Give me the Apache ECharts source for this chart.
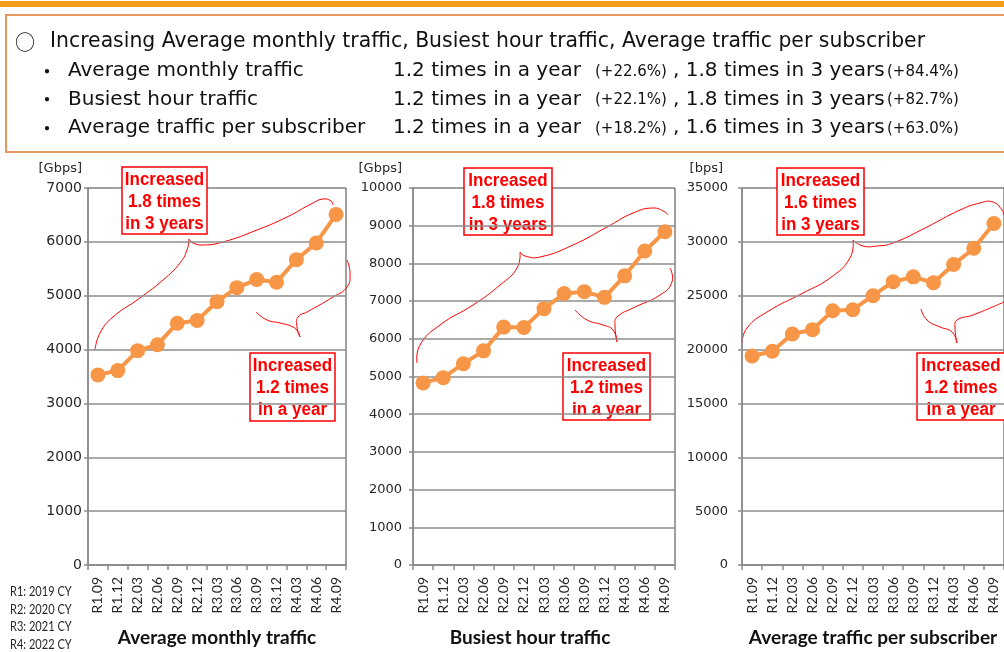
<!DOCTYPE html>
<html>
  <head>
    <meta charset="utf-8" />
    <title>Traffic</title>
    <script src="https://cdn.jsdelivr.net/npm/echarts/dist/echarts.min.js"></script>
    <style>
      body { margin: 0; background: #fff; }
    </style>
  </head>
  <body>
    <div id="main" style="width: 1004px; height: 652px;"></div>

    <script type="text/javascript">
      // data
      const periods = ['R1.09', 'R1.12', 'R2.03', 'R2.06', 'R2.09', 'R2.12', 'R3.03', 'R3.06', 'R3.09', 'R3.12', 'R4.03', 'R4.06', 'R4.09'];
      const monthlyTraffic = [3530, 3610, 3980, 4090, 4490, 4540, 4890, 5150, 5300, 5250, 5670, 5980, 6510];
      const busiestHourTraffic = [4830, 4970, 5340, 5680, 6310, 6300, 6800, 7200, 7250, 7100, 7670, 8330, 8840];
      const trafficPerSubscriber = [19400, 19850, 21450, 21850, 23600, 23700, 25000, 26300, 26750, 26200, 27900, 29400, 31700];

      const chartTitles = ['Average monthly traffic', 'Busiest hour traffic', 'Average traffic per subscriber'];
      const units = ['[Gbps]', '[Gbps]', '[bps]'];
      const yMax = [7000, 10000, 35000];
      const yStep = [1000, 1000, 5000];
      const eraNotes = ['R1: 2019 CY', 'R2: 2020 CY', 'R3: 2021 CY', 'R4: 2022 CY'];

      const summaryRows = [
        ['Average monthly traffic', '(+22.6%)', '(+84.4%)', '1.8'],
        ['Busiest hour traffic', '(+22.1%)', '(+82.7%)', '1.8'],
        ['Average traffic per subscriber', '(+18.2%)', '(+63.0%)', '1.6']
      ];

      var myChart = echarts.init(document.getElementById('main'));

      const gray = '#8c8c8c';
      const red = '#ff0000';
      const orange = '#f79646';
      const bigFont = '20px "DejaVu Sans"';
      const smallFont = '15px "DejaVu Sans"';

      const grids = [
        { left: 88, top: 188, width: 258, height: 378 },
        { left: 413, top: 188, width: 262, height: 378 },
        { left: 742, top: 188, width: 270, height: 378 }
      ];
      const labelMargin = [6, 11, 14];
      const labelSize = [14, 13, 13];
      const namePad = [[0, 0, 0, 0], [0, 28, 0, 0], [0, 0, 0, 0]];

      function noteBox(x, y, w, h, text) {
        return {
          type: 'group',
          z: 100,
          children: [
            { type: 'rect', shape: { x: x, y: y, width: w, height: h }, style: { fill: '#fff', stroke: red, lineWidth: 1.5 } },
            {
              type: 'text',
              x: x + w / 2, y: y + h / 2 + 1, scaleY: 1.1,
              style: {
                text: text, x: 0, y: 0, align: 'center', verticalAlign: 'middle',
                font: 'bold 17px "Liberation Sans"', fill: red, lineHeight: 20
              }
            }
          ]
        };
      }

      function brace(left, right) {
        return {
          type: 'group',
          z: 100,
          children: [
            { type: 'polyline', shape: { points: left, smooth: 0.5 }, style: { stroke: red, lineWidth: 1, fill: null } },
            { type: 'polyline', shape: { points: right, smooth: 0.5 }, style: { stroke: red, lineWidth: 1, fill: null } }
          ]
        };
      }

      const graphics = [];

      // header bar and summary box
      graphics.push({ type: 'rect', shape: { x: 0, y: 1, width: 1004, height: 6 }, style: { fill: '#f59c1a' } });
      graphics.push({ type: 'rect', shape: { x: 6, y: 15, width: 1020, height: 137 }, style: { fill: null, stroke: '#e8975f', lineWidth: 2 } });
      graphics.push({ type: 'text', style: { text: '○', x: 15, y: 42, verticalAlign: 'middle', font: '20px "Noto Sans CJK JP"', fill: '#111' } });
      graphics.push({
        type: 'text',
        style: {
          text: 'Increasing Average monthly traffic, Busiest hour traffic, Average traffic per subscriber',
          x: 50, y: 42, verticalAlign: 'middle', font: '20.4px "DejaVu Sans"', fill: '#111'
        }
      });
      summaryRows.forEach(function (row, i) {
        const y = 71 + i * 28.5;
        graphics.push({ type: 'text', style: { text: '・', x: 37, y: y, verticalAlign: 'middle', font: '20px "Noto Sans CJK JP"', fill: '#111' } });
        graphics.push({ type: 'text', style: { text: row[0], x: 68, y: y, verticalAlign: 'middle', font: bigFont, fill: '#111' } });
        graphics.push({ type: 'text', style: { text: '1.2 times in a year', x: 393, y: y, verticalAlign: 'middle', font: bigFont, fill: '#111' } });
        graphics.push({ type: 'text', style: { text: row[1], x: 595, y: y + 1, verticalAlign: 'middle', font: smallFont, fill: '#111' } });
        graphics.push({ type: 'text', style: { text: ', ' + row[3] + ' times in 3 years', x: 673, y: y, verticalAlign: 'middle', font: bigFont, fill: '#111' } });
        graphics.push({ type: 'text', style: { text: row[2], x: 887, y: y + 1, verticalAlign: 'middle', font: smallFont, fill: '#111' } });
      });

      // unit labels
      [82, 402, 723].forEach(function (x, i) {
        graphics.push({ type: 'text', style: { text: units[i], x: x, y: 169, align: 'right', verticalAlign: 'middle', font: '13px "DejaVu Sans"', fill: '#262626' } });
      });

      // era notes
      eraNotes.forEach(function (t, i) {
        graphics.push({
          type: 'text', x: 10, y: 592 + i * 17.6, scaleX: 0.85,
          style: { text: t, x: 0, y: 0, verticalAlign: 'middle', font: '13px Lato', fill: '#262626' }
        });
      });

      // annotation boxes
      graphics.push(noteBox(122, 167, 85, 67, 'Increased\n1.8 times\nin 3 years'));
      graphics.push(noteBox(250, 353, 85, 68, 'Increased\n1.2 times\nin a year'));
      graphics.push(noteBox(464, 168, 88, 67, 'Increased\n1.8 times\nin 3 years'));
      graphics.push(noteBox(563, 353, 87, 67, 'Increased\n1.2 times\nin a year'));
      graphics.push(noteBox(777, 168, 87, 67, 'Increased\n1.6 times\nin 3 years'));
      graphics.push(noteBox(917, 353, 88, 67, 'Increased\n1.2 times\nin a year'));

      // braces
      graphics.push(brace(
        [[95, 350], [100, 333], [113, 317], [137, 300], [163, 280], [180, 263], [187, 250], [189, 239]],
        [[189, 239], [193, 243], [203, 245], [223, 242], [257, 230], [287, 217], [313, 203], [323, 199], [331, 201], [333, 205]]
      ));
      graphics.push(brace(
        [[256, 312], [267, 320], [280, 323], [293, 327], [298, 332], [300, 337]],
        [[300, 337], [297, 327], [298, 317], [307, 312], [333, 297], [347, 287], [350, 273], [347, 260]]
      ));
      graphics.push(brace(
        [[417, 363], [420, 345], [440, 325], [473, 305], [500, 285], [517, 268], [520, 252]],
        [[520, 252], [525, 256], [540, 257], [573, 245], [607, 227], [633, 213], [653, 208], [665, 212], [668, 215]]
      ));
      graphics.push(brace(
        [[575, 310], [587, 320], [603, 325], [613, 330], [617, 342]],
        [[617, 342], [615, 325], [617, 317], [633, 308], [660, 295], [672, 282], [670, 268]]
      ));
      graphics.push(brace(
        [[742, 343], [747, 328], [767, 312], [803, 293], [830, 278], [850, 258], [853, 240]],
        [[853, 240], [863, 246], [877, 246], [893, 243], [927, 227], [960, 210], [980, 203], [993, 202], [1002, 210], [1004, 215]]
      ));
      graphics.push(brace(
        [[921, 309], [927, 320], [940, 327], [952, 332], [957, 343]],
        [[957, 343], [955, 327], [957, 320], [973, 315], [1004, 302]]
      ));

      const seriesData = [monthlyTraffic, busiestHourTraffic, trafficPerSubscriber];

      let option = {
        animation: false,
        backgroundColor: '#fff',
        grid: grids.map(function (g) {
          return Object.assign({ show: true, borderColor: '#404040', borderWidth: 1 }, g);
        }),
        xAxis: grids.map(function (g, i) {
          return {
            type: 'category',
            gridIndex: i,
            data: periods,
            axisLine: { lineStyle: { color: gray, width: 1.5 } },
            axisTick: { show: true, length: 5, lineStyle: { color: gray, width: 1.5 } },
            axisLabel: { rotate: 90, margin: 12, color: '#262626', fontFamily: 'Lato', fontSize: 14 },
            name: chartTitles[i],
            nameLocation: 'middle',
            nameGap: 63,
            nameTextStyle: { fontFamily: 'Lato', fontWeight: 'bold', fontSize: 19, color: '#111', padding: namePad[i] }
          };
        }),
        yAxis: grids.map(function (g, i) {
          return {
            type: 'value',
            gridIndex: i,
            min: 0,
            max: yMax[i],
            interval: yStep[i],
            axisLine: { show: true, lineStyle: { color: gray, width: 1.5 } },
            axisTick: { show: true, length: 4, lineStyle: { color: gray, width: 1.5 } },
            axisLabel: {
              margin: labelMargin[i], color: '#262626', fontFamily: 'DejaVu Sans', fontSize: labelSize[i],
              formatter: function (v) { return String(v); }
            },
            splitLine: { show: true, showMaxLine: false, lineStyle: { color: gray, width: 1.5 } }
          };
        }),
        series: seriesData.map(function (d, i) {
          return {
            type: 'line',
            xAxisIndex: i,
            yAxisIndex: i,
            data: d,
            symbol: 'circle',
            symbolSize: 15,
            lineStyle: { color: orange, width: 4 },
            itemStyle: { color: orange }
          };
        }),
        graphic: graphics
      };

      myChart.setOption(option);
    </script>
  </body>
</html>
